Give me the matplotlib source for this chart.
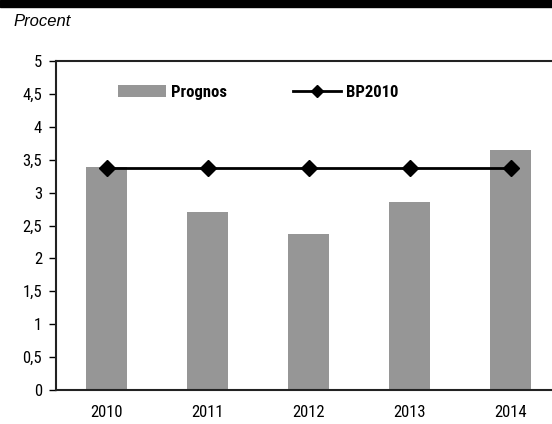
import matplotlib
matplotlib.use("Agg")
import matplotlib.pyplot as plt
import numpy as np

plt.rcParams["font.family"] = ["Roboto Condensed", "DejaVu Sans"]

years = ["2010", "2011", "2012", "2013", "2014"]
prognos = [3.39, 2.71, 2.37, 2.86, 3.65]
bp2010 = [3.38, 3.38, 3.38, 3.38, 3.38]
yticks = [0, 0.5, 1, 1.5, 2, 2.5, 3, 3.5, 4, 4.5, 5]
ytick_labels = ["0", "0,5", "1", "1,5", "2", "2,5", "3", "3,5", "4", "4,5", "5"]

fig = plt.figure(figsize=(5.52, 4.24), dpi=100)
ax = fig.add_axes([56 / 552, 1 - 390 / 424, 505 / 552, 329 / 424])

x = np.arange(len(years))
bars = ax.bar(x, prognos, width=0.41, color="#969696", label="Prognos", zorder=2)
line, = ax.plot(x, bp2010, color="black", lw=2, marker="D", markersize=8,
                label="BP2010", zorder=3)

ax.set_xlim(-0.5, len(years) - 0.5)
ax.set_ylim(0, 5)
ax.set_yticks(yticks)
ax.set_yticklabels(ytick_labels, fontsize=12)
ax.set_xticks(x)
ax.set_xticklabels(years, fontsize=12)
ax.tick_params(axis="x", length=0, pad=11)
ax.tick_params(axis="y", length=5, width=1, direction="out", pad=5)
for side in ["left", "bottom", "top"]:
    ax.spines[side].set_linewidth(1.5)
    ax.spines[side].set_color("#222222")

ax.legend([bars, line], ["Prognos", "BP2010"], loc="center left",
          bbox_to_anchor=((118 - 56) / 505, (390 - 92.5) / 329), ncol=2,
          frameon=False, borderpad=0, borderaxespad=0,
          prop={"weight": "bold", "size": 12}, handlelength=2.9,
          columnspacing=4.0, handletextpad=0.25, markerscale=0.8)

fig.text(13 / 552, 1 - 22 / 424, "Procent", fontsize=12, style="italic",
         va="center", ha="left", family=["Liberation Sans", "DejaVu Sans"])
fig.patches.append(plt.Rectangle((0, 1 - 7 / 424), 1, 7 / 424,
                                 transform=fig.transFigure, color="black"))

plt.savefig("out.png", dpi=100)
plt.close()
